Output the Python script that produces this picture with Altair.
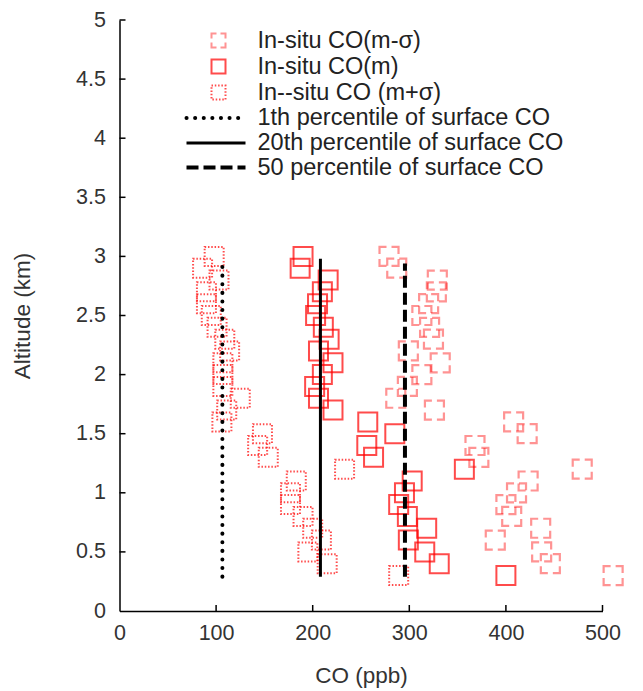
import altair as alt
import pandas as pd

# ---------------- data ----------------
altitude_km = [3.0, 2.9, 2.8, 2.7, 2.6, 2.5, 2.4, 2.3, 2.2, 2.1, 2.0, 1.9, 1.8, 1.7,
               1.6, 1.5, 1.4, 1.3, 1.2, 1.1, 1.0, 0.9, 0.8, 0.7, 0.6, 0.5, 0.4, 0.3]

co_m_minus_sigma = [279, 287, 329, 328, 320, 313, 321, 325, 299, 332, 313, 298, 286, 326,
                    408, 422, 368, 372, 479, 423, 411, 400, 406, 436, 389, 437, 446, 511]
co_m = [190, 187, 216, 210, 205, 203, 211, 217, 206, 221, 210, 202, 206, 221,
        257, 285, 256, 263, 357, 303, 295, 289, 298, 318, 299, 316, 331, 400]
co_m_plus_sigma = [98, 86, 103, 90, 90, 95, 101, 109, 114, 107, 107, 107, 125, 111,
                   106, 148, 143, 154, 233, 183, 177, 177, 190, 200, 209, 195, 215, 289]

series_labels = ["In-situ CO(m-σ)", "In-situ CO(m)", "In--situ CO (m+σ)"]

line_labels = ["1th percentile of surface CO", "20th percentile of surface CO",
               "50 percentile of surface CO"]
line_co = [106.5, 208, 295.5]
line_bottom = [0.29, 0.29, 0.29]
line_top = [2.94, 2.98, 2.94]

x_ticks = [0, 100, 200, 300, 400, 500]
y_ticks = [0, 0.5, 1, 1.5, 2, 2.5, 3, 3.5, 4, 4.5, 5]

FONT = "Liberation Sans"
W, H = 483, 591

# ---------------- tables ----------------
df_minus = pd.DataFrame({"co": co_m_minus_sigma, "alt": altitude_km})
df_m = pd.DataFrame({"co": co_m, "alt": altitude_km})
df_plus = pd.DataFrame({"co": co_m_plus_sigma, "alt": altitude_km})
df_lines = pd.DataFrame({"co": line_co, "alt": line_bottom, "alt_top": line_top,
                         "name": line_labels})
df_xt = pd.DataFrame({"co": x_ticks[1:]})
df_yt = pd.DataFrame({"alt": y_ticks[1:]})
one = pd.DataFrame({"k": [0]})

xscale = alt.Scale(domain=[0, 500], nice=False, zero=False)
yscale = alt.Scale(domain=[0, 5], nice=False, zero=False)

X = alt.X("co:Q", scale=xscale,
          axis=alt.Axis(values=x_ticks, format="d", title="CO (ppb)", labelFlush=False,
                        titleX=241.5, titleY=64, titleBaseline="middle"))
Y = alt.Y("alt:Q", scale=yscale,
          axis=alt.Axis(values=y_ticks, format="~g", title="Altitude (km)", labelFlush=False,
                        titleX=-97, titleY=295.5, titleAngle=270,
                        titleAlign="center", titleBaseline="middle"))

sq = 361
dashed_sq = alt.Chart(df_minus).mark_point(
    shape="square", size=sq, filled=False, stroke="#FF0000", strokeOpacity=0.6,
    strokeWidth=2.2, strokeDash=[14, 5], strokeDashOffset=7
).encode(x=X, y=Y)

solid_sq = alt.Chart(df_m).mark_point(
    shape="square", size=sq, filled=False, stroke="#FF0000", strokeOpacity=1,
    strokeWidth=2
).encode(x=X, y=Y)

dotted_sq = alt.Chart(df_plus).mark_point(
    shape="square", size=sq, filled=False, stroke="#FF0000", strokeOpacity=1,
    strokeWidth=2, strokeDash=[1.5, 1.8]
).encode(x=X, y=Y)

line_styles = [
    dict(strokeWidth=4, strokeDash=[0.1, 8.5], strokeCap="round"),
    dict(strokeWidth=3),
    dict(strokeWidth=4, strokeDash=[12, 5]),
]

line_layers = []
for i, style in enumerate(line_styles):
    line_layers.append(
        alt.Chart(df_lines.iloc[[i]]).mark_rule(color="black", **style).encode(
            x=X, y=Y, y2="alt_top:Q")
    )

# inward ticks
xt = alt.Chart(df_xt).mark_rule(color="black", strokeWidth=1.5).encode(
    x=X, y=alt.value(H), y2=alt.value(H - 6))
yt = alt.Chart(df_yt).mark_rule(color="black", strokeWidth=1.5).encode(
    y=Y, x=alt.value(0), x2=alt.value(6))

# legend
leg_y = [20.5, 46.5, 72.5, 98, 123, 147.5]
sym_x = 99
line_x1, line_x2 = 67, 126
text_x = 138

legend_layers = []
sym_styles = [
    dict(strokeOpacity=0.6, strokeDash=[10, 4], strokeDashOffset=5),
    dict(strokeOpacity=1),
    dict(strokeOpacity=1, strokeDash=[1.5, 1.8]),
]
for i, st in enumerate(sym_styles):
    legend_layers.append(
        alt.Chart(one).mark_point(shape="square", size=196, filled=False,
                                  stroke="#FF0000", strokeWidth=2, **st)
        .encode(x=alt.value(sym_x), y=alt.value(leg_y[i]))
    )
for i, style in enumerate(line_styles):
    legend_layers.append(
        alt.Chart(one).mark_rule(color="black", **style)
        .encode(x=alt.value(line_x1), x2=alt.value(line_x2), y=alt.value(leg_y[3 + i]))
    )
for i, lab in enumerate(series_labels + line_labels):
    legend_layers.append(
        alt.Chart(one).mark_text(align="left", baseline="middle", font=FONT,
                                 fontSize=23.5, color="#222222", text=lab)
        .encode(x=alt.value(text_x), y=alt.value(leg_y[i]))
    )

chart = alt.layer(
    dashed_sq, solid_sq, dotted_sq, *line_layers, xt, yt, *legend_layers
).properties(
    width=W, height=H,
    autosize=alt.AutoSizeParams(type="none"),
    padding={"left": 111.5, "top": 12, "right": 30, "bottom": 78},
).configure_view(stroke=None).configure_axis(
    grid=False, ticks=False, domainColor="black", domainWidth=1.5,
    labelFont=FONT, labelFontSize=21.5, labelColor="#333333",
    titleFont=FONT, titleFontSize=22.5, titleFontWeight="normal", titleColor="#333333",
).configure_axisX(labelPadding=11).configure_axisY(labelPadding=14)

chart.save("out.html", embed_options={"renderer": "svg", "actions": False})
